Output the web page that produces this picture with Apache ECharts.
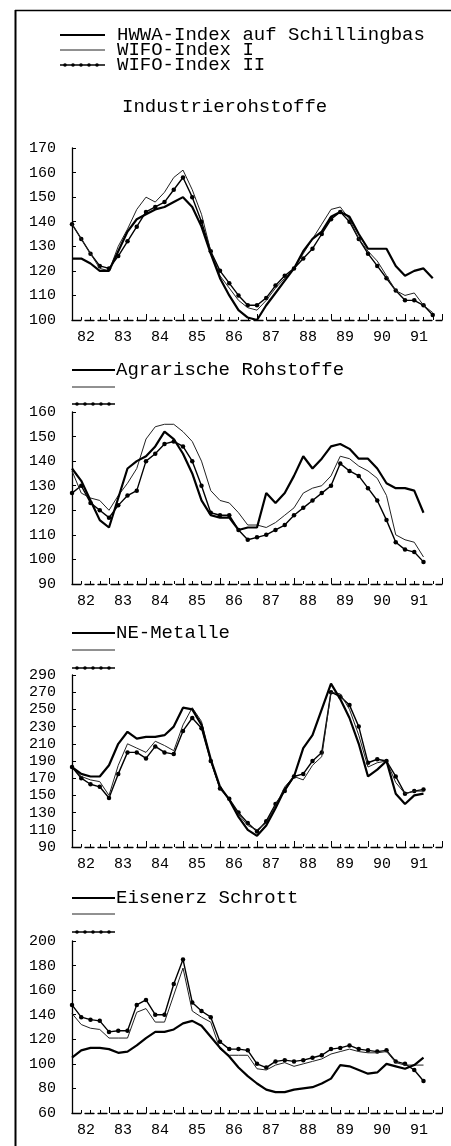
<!DOCTYPE html>
<html><head><meta charset="utf-8">
<script src="https://cdn.jsdelivr.net/npm/echarts@6/dist/echarts.min.js"></script>
<style>html,body{margin:0;padding:0;background:#fff}#c{width:451px;height:1146px}</style>
</head><body><div id="c"></div>
<script>
// ---------- DATA ----------
const quarters = [
 '1982Q1','1982Q2','1982Q3','1982Q4','1983Q1','1983Q2','1983Q3','1983Q4',
 '1984Q1','1984Q2','1984Q3','1984Q4','1985Q1','1985Q2','1985Q3','1985Q4',
 '1986Q1','1986Q2','1986Q3','1986Q4','1987Q1','1987Q2','1987Q3','1987Q4',
 '1988Q1','1988Q2','1988Q3','1988Q4','1989Q1','1989Q2','1989Q3','1989Q4',
 '1990Q1','1990Q2','1990Q3','1990Q4','1991Q1','1991Q2','1991Q3','1991Q4'];
const yearLabels = ['82','83','84','85','86','87','88','89','90','91'];
const seriesNames = ['HWWA-Index auf Schillingbas','WIFO-Index I','WIFO-Index II'];
const panelTitles = ['Industrierohstoffe','Agrarische Rohstoffe','NE-Metalle','Eisenerz Schrott'];

// Industrierohstoffe
const indHWWA  = [125,125,123,120, 120,128,136,141, 143,145,146,148, 150,146,138,127, 117,110,104,101, 100,106,111,116, 121,128,133,136, 142,144,142,135, 129,129,129,122, 118,120,121,117];
const indWIFO1 = [139,133,127,121, 120,130,137,145, 150,148,152,158, 161,153,143,128, 118,113,108,105, 104,108,113,117, 121,127,133,139, 145,146,141,133, 128,124,118,112, 110,111,106,103];
const indWIFO2 = [139,133,127,122, 121,126,132,138, 144,146,148,153, 158,150,140,128, 120,115,110,106, 106,109,114,118, 121,125,129,135, 141,144,140,133, 127,122,117,112, 108,108,106,102];
// Agrarische Rohstoffe
const agrHWWA  = [137,132,124,116, 113,125,137,140, 142,146,152,149, 143,135,124,118, 117,117,112,113, 113,127,123,127, 134,142,137,141, 146,147,145,141, 141,137,131,129, 129,128,119,null];
const agrWIFO1 = [136,127,125,124, 120,126,131,137, 149,154,155,155, 152,148,140,128, 124,123,119,114, 114,113,115,118, 121,127,129,130, 134,142,141,138, 136,133,126,110, 108,107,101,null];
const agrWIFO2 = [127,130,123,120, 117,122,126,128, 140,143,147,148, 146,140,130,119, 118,118,112,108, 109,110,112,114, 118,121,124,127, 130,139,136,134, 129,124,116,107, 104,103,99,null];
// NE-Metalle
const neHWWA   = [183,175,172,172, 185,210,224,216, 218,218,220,230, 252,250,232,192, 160,145,125,110, 103,115,135,157, 172,205,220,250, 280,262,240,210, 172,180,190,152, 140,150,152,null];
const neWIFO1  = [183,172,168,166, 150,185,210,205, 200,213,208,202, 232,252,236,190, 158,146,128,115, 110,118,138,160, 172,168,185,195, 270,268,250,220, 183,188,190,165, 152,155,155,null];
const neWIFO2  = [183,170,163,160, 147,175,200,200, 193,207,200,198, 225,240,228,190, 158,146,130,118, 108,120,140,155, 172,175,190,200, 270,265,255,230, 188,192,190,172, 152,155,157,null];
// Eisenerz Schrott
const eisHWWA  = [105,111,113,113, 112,109,110,115, 121,126,126,128, 133,135,131,122, 113,106,97,90, 84,79,77,77, 79,80,81,84, 88,99,98,95, 92,93,100,98, 96,99,105,null];
const eisWIFO1 = [141,132,129,128, 121,121,121,142, 145,134,134,156, 178,143,138,134, 112,107,107,107, 96,95,99,101, 98,100,102,104, 108,110,112,110, 109,109,110,101, 99,99,99,null];
const eisWIFO2 = [148,138,136,135, 126,127,127,148, 152,140,140,165, 185,150,143,138, 118,112,112,111, 100,97,102,103, 102,103,105,107, 112,113,115,112, 111,110,111,102, 100,95,86,null];

const yMin  = [100, 90, 90, 60];
const yMax  = [170,160,290,200];
const yStep = [ 10, 10, 20, 20];

// ---------- CHART ----------
const panels = [
  [indHWWA, indWIFO1, indWIFO2],
  [agrHWWA, agrWIFO1, agrWIFO2],
  [neHWWA,  neWIFO1,  neWIFO2],
  [eisHWWA, eisWIFO1, eisWIFO2]
];
function qx(q){ return +q.slice(0,4) + (+q.slice(5)-1)/4; }
const tops = [148, 412, 675, 941];
const FONT = '"Liberation Mono", "DejaVu Sans Mono", monospace';

const grids = [], xAxes = [], yAxes = [], series = [];
panels.forEach((p, k) => {
  grids.push({left:72, top:tops[k], width:370, height:172});
  xAxes.push({
    type:'value', gridIndex:k, min:1982, max:1992, interval:1,
    axisLine:{show:true, lineStyle:{color:'#000', width:1.3, type:[9,4]}},
    axisTick:{show:true, inside:true, length:6, lineStyle:{color:'#000', width:1}},
    minorTick:{show:true, splitNumber:4, length:3, lineStyle:{color:'#000'}},
    splitLine:{show:false},
    axisLabel:{
      customValues: yearLabels.map(y => 1900 + (+y) + 0.38),
      formatter: v => String(Math.floor(v)).slice(2),
      color:'#000', fontFamily:FONT, fontSize:15, margin:10
    }
  });
  yAxes.push({
    type:'value', gridIndex:k, min:yMin[k], max:yMax[k], interval:yStep[k],
    axisLine:{show:true, lineStyle:{color:'#000', width:1.3}},
    axisTick:{show:true, inside:true, length:4, lineStyle:{color:'#000'}},
    splitLine:{show:false},
    axisLabel:{color:'#000', fontFamily:FONT, fontSize:15, margin:16}
  });
  const styles = [
    {lineStyle:{color:'#000', width:2.2}, showSymbol:false, symbol:'none'},
    {lineStyle:{color:'#222', width:1}, showSymbol:false, symbol:'none'},
    {lineStyle:{color:'#000', width:1.4}, symbol:'circle', symbolSize:4.5, showSymbol:true, itemStyle:{color:'#000'}}
  ];
  p.forEach((arr, j) => {
    series.push(Object.assign({
      type:'line', name:seriesNames[j], xAxisIndex:k, yAxisIndex:k,
      data: arr.map((v,i) => [qx(quarters[i]), v]),
      connectNulls:false, animation:false, z: 5-j
    }, styles[j]));
  });
});

// legend / titles (graphic)
const g = [];
function sample(x1, x2, y, type){
  if(type===0) g.push({type:'line', shape:{x1,y1:y,x2,y2:y}, style:{stroke:'#000', lineWidth:2}});
  else if(type===1) g.push({type:'line', shape:{x1,y1:y,x2,y2:y}, style:{stroke:'#222', lineWidth:1}});
  else {
    g.push({type:'line', shape:{x1,y1:y,x2,y2:y}, style:{stroke:'#000', lineWidth:1.4}});
    for(let x=x1+5; x<x2; x+=8) g.push({type:'circle', shape:{cx:x, cy:y, r:1.8}, style:{fill:'#000'}});
  }
}
function txt(x, y, s){ g.push({type:'text', x, y, style:{text:s, font:'19px '+FONT, fill:'#000', textVerticalAlign:'middle'}}); }
// frame
g.push({type:'line', shape:{x1:15.5,y1:10,x2:15.5,y2:1146}, style:{stroke:'#000', lineWidth:2}});
g.push({type:'line', shape:{x1:15,y1:10.5,x2:451,y2:10.5}, style:{stroke:'#000', lineWidth:1.5}});
// top legend
sample(60,105,35,0); txt(117,35,seriesNames[0]);
sample(60,105,50,1); txt(117,50,seriesNames[1]);
sample(60,105,65,2); txt(117,65,seriesNames[2]);
// panel titles
txt(122,107,panelTitles[0]);
[[370,387,404],[633,650,668],[898,914,932]].forEach((ys,k)=>{
  sample(72,115,ys[0],0); txt(116,ys[0],panelTitles[k+1]);
  sample(72,115,ys[1],1);
  sample(72,115,ys[2],2);
});

const chart = echarts.init(document.getElementById('c'), null, {renderer:'canvas'});
chart.setOption({animation:false, backgroundColor:'#fff', grid:grids, xAxis:xAxes, yAxis:yAxes, series, graphic:g});
</script></body></html>
